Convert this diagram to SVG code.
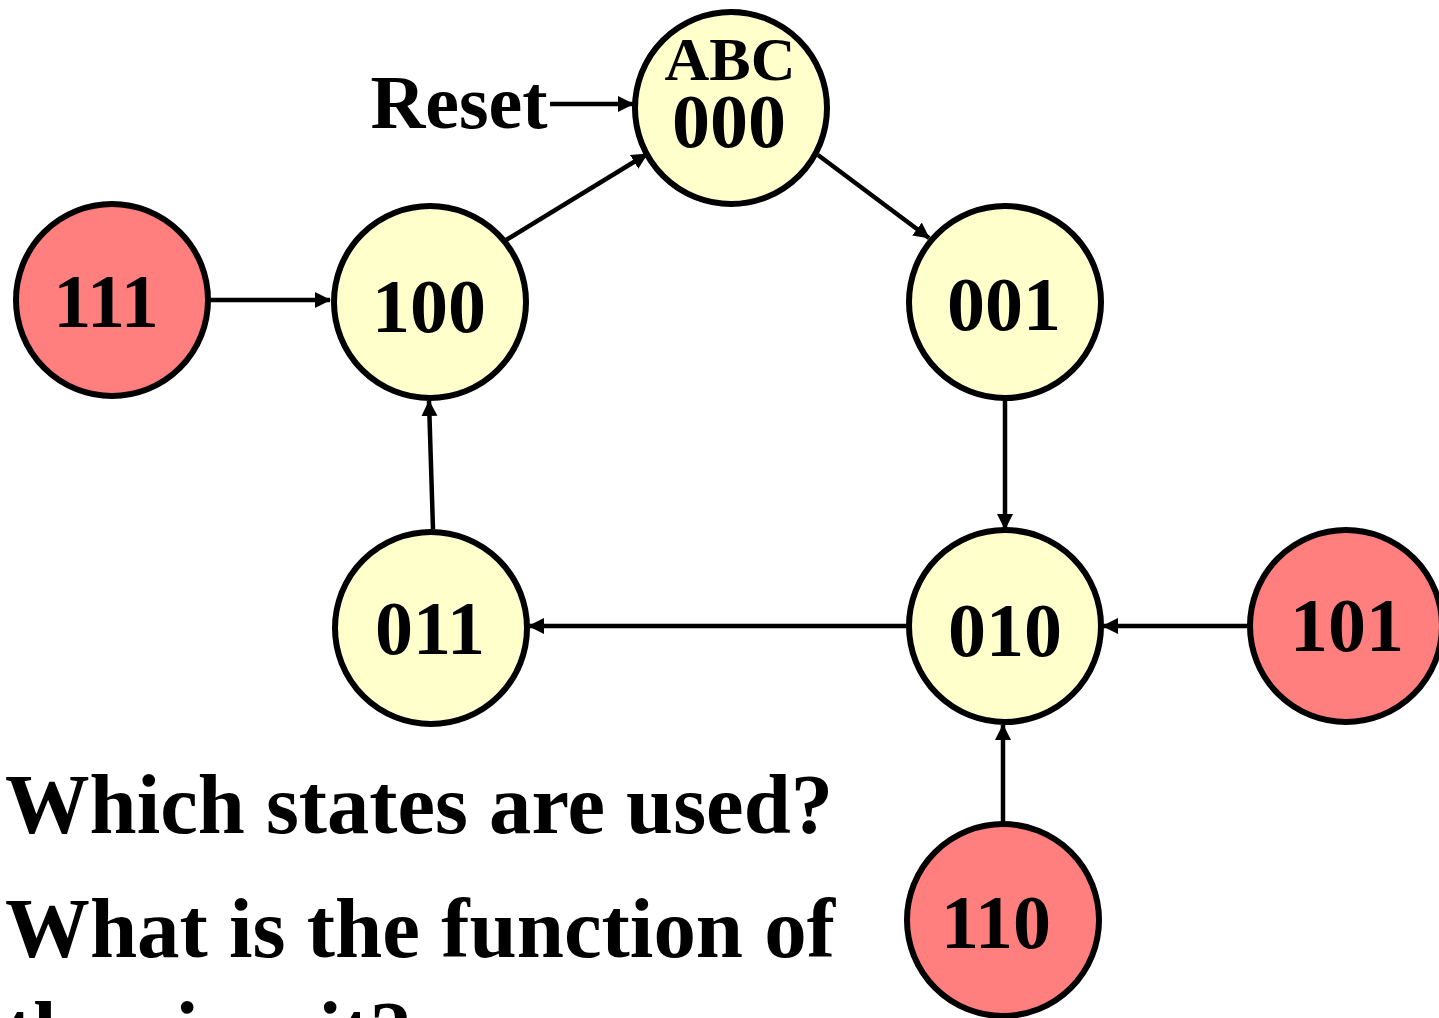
<svg xmlns="http://www.w3.org/2000/svg" width="1439" height="1018" viewBox="0 0 1439 1018">
<style>
.st{stroke:#000;stroke-width:6}
.used{fill:#FFFFCC}
.unused{fill:#FF7F7F}
.lbl{font-family:"Liberation Serif","Times New Roman",serif;font-weight:bold;font-size:76px;text-anchor:middle;fill:#000}
.q{font-family:"Liberation Serif","Times New Roman",serif;font-weight:bold;font-size:84px;fill:#000}
.edge{stroke:#000;stroke-width:4.5;fill:none;marker-end:url(#ah)}
</style>
<defs>
<marker id="ah" markerUnits="userSpaceOnUse" markerWidth="16" markerHeight="18" refX="15" refY="8" orient="auto">
<path d="M0,0 L16,8 L0,16 z" fill="#000"/>
</marker>
</defs>
<rect width="1439" height="1018" fill="#fff"/>
<g id="connectors">
<line class="edge" x1="550" y1="104" x2="633" y2="104"/>
<line class="edge" x1="211" y1="300" x2="330" y2="300"/>
<line class="edge" x1="506" y1="240" x2="647" y2="154"/>
<line class="edge" x1="818" y1="155" x2="929" y2="238"/>
<line class="edge" x1="1005" y1="400" x2="1005" y2="529"/>
<line class="edge" x1="908" y1="626" x2="529" y2="626"/>
<line class="edge" x1="1248" y1="626" x2="1103" y2="626"/>
<line class="edge" x1="1003" y1="823" x2="1003" y2="725"/>
<line class="edge" x1="433" y1="529" x2="429" y2="401"/>
</g>
<g id="reset"><text class="lbl" x="459" y="128" font-size="74">Reset</text></g>
<g id="s000"><circle class="st used" cx="731" cy="108" r="96"/><text class="lbl" x="730" y="80" style="font-size:62px">ABC</text><text class="lbl" x="729" y="147" style="font-size:76px">000</text></g>
<g id="s111"><circle class="st unused" cx="112" cy="300" r="96"/><text class="lbl" x="106" y="327">111</text></g>
<g id="s100"><circle class="st used" cx="430" cy="302" r="96"/><text class="lbl" x="429" y="332">100</text></g>
<g id="s001"><circle class="st used" cx="1005" cy="302" r="96"/><text class="lbl" x="1004" y="330">001</text></g>
<g id="s011"><circle class="st used" cx="431" cy="628" r="96"/><text class="lbl" x="430" y="654">011</text></g>
<g id="s010"><circle class="st used" cx="1005" cy="626" r="96"/><text class="lbl" x="1005" y="656">010</text></g>
<g id="s101"><circle class="st unused" cx="1346" cy="626" r="96"/><text class="lbl" x="1347" y="651">101</text></g>
<g id="s110"><circle class="st unused" cx="1003" cy="920" r="96"/><text class="lbl" x="996" y="948">110</text></g>
<g id="question">
<text class="q" x="5" y="833" textLength="828" lengthAdjust="spacingAndGlyphs">Which states are used?</text>
<text class="q" x="5" y="957" textLength="830" lengthAdjust="spacingAndGlyphs">What is the function of</text>
<text class="q" x="5" y="1060">the circuit?</text>
</g>
</svg>
